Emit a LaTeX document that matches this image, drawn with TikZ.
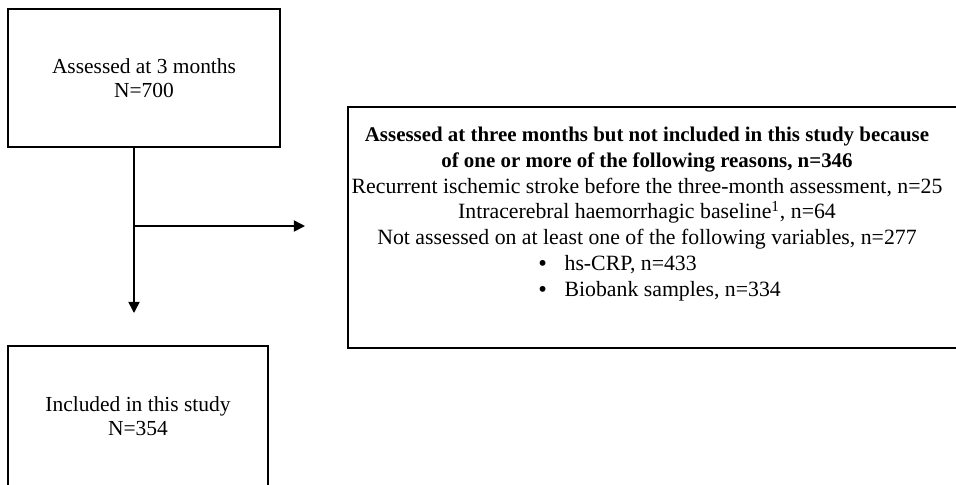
\documentclass[tikz,border=0pt]{standalone}
\usepackage{fontspec}
\setmainfont{Liberation Serif}
\usetikzlibrary{arrows.meta,positioning}
\newcommand{\bigbul}{\raisebox{-0.4pt}{\fontsize{14}{14}\selectfont\textbullet}}

\begin{document}
\begin{tikzpicture}[x=0.02cm,y=-0.02cm,>={Triangle[length=6.4pt,width=6.4pt]},
  box/.style={draw=black,line width=0.9pt,align=center,inner sep=0pt,
              font=\fontsize{12.2}{13.8}\selectfont},
  txt/.style={align=center,inner sep=0pt,font=\fontsize{12.4}{14.7}\selectfont},
  fl/.style={->,line width=0.9pt,black}]
\useasboundingbox (0,0) rectangle (956,484);
\clip (0,0) rectangle (956,484);
% ---------------- left column
\node[box,minimum width=5.44cm,minimum height=2.76cm] (assessed) at (144,78)
  {Assessed at 3 months\\N=700};
\node[box,minimum width=5.2cm,minimum height=2.8cm] (included) at (138,416)
  {Included in this study\\N=354};
% ---------------- exclusion box
\node[draw=black,line width=0.9pt,minimum width=12.24cm,minimum height=4.82cm,
  inner sep=0pt] (excluded) at (654,227.5) {};
\node[txt] (reasons) at (647,214)
  {{\fontsize{11.9}{14.7}\selectfont\bfseries Assessed at three months but not included in this study because}\\
   {\fontsize{11.9}{14.7}\selectfont\bfseries of one or more of the following reasons, n=346}\\
   Recurrent ischemic stroke before the three-month assessment, n=25\\
   Intracerebral haemorrhagic baseline\textsuperscript{1}, n=64\\
   Not assessed on at least one of the following variables, n=277\\
   \makebox[123.6pt][l]{\bigbul\hspace{10pt}hs-CRP, n=433}\\
   \makebox[123.6pt][l]{\bigbul\hspace{10pt}Biobank samples, n=334}};
% ---------------- connectors
\coordinate (split) at (134,226);
\coordinate (downend) at (134,313);
\coordinate (rightend) at (305,226);
\draw[fl] (assessed.south -| split) -- (downend);
\draw[fl] (split) -- (rightend);
\end{tikzpicture}
\end{document}
